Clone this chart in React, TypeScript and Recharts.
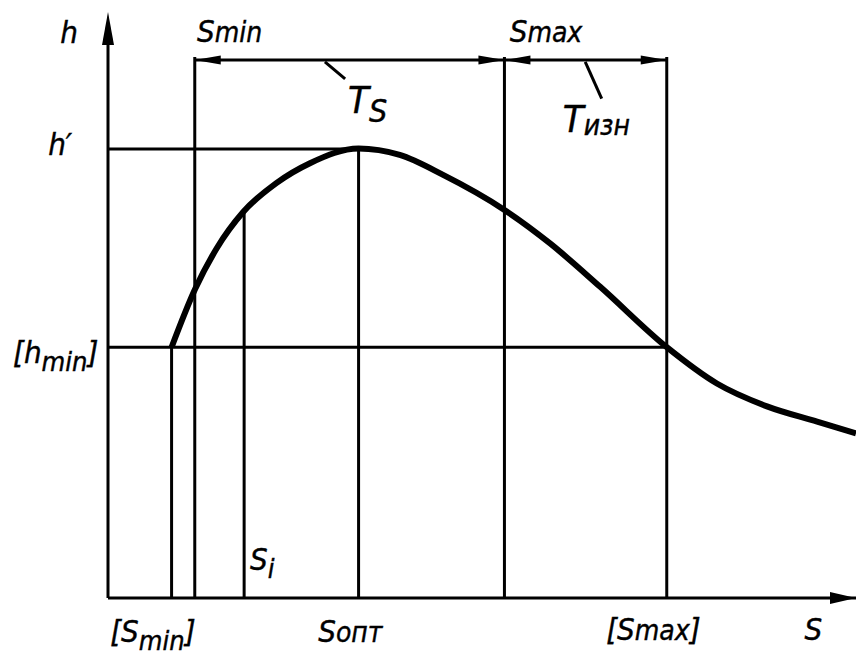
import { ComposedChart, Line, XAxis, YAxis, ReferenceLine, ReferenceDot } from 'recharts'

// curve h(S) (0..100 on both axes)
const curveS = [8.5, 11.6, 14.5, 18.1, 22.5, 27.0, 33.5, 39.0, 44.8, 52.9, 59.1, 65.8, 74.7, 81.4, 88.1, 94.8, 100]
const curveH = [42.8, 52.6, 59.6, 65.9, 70.8, 74.2, 76.7, 75.6, 72.2, 66.3, 60.5, 53.1, 42.8, 36.6, 32.7, 30.1, 28.1]

// characteristic points
const S_MIN_ALLOW = 8.5
const S_MIN = 11.6
const S_I = 18.2
const S_OPT = 33.5
const S_MAX = 53.0
const S_MAX_ALLOW = 74.7
const H_PRIME = 76.6
const H_MIN = 42.8
const H_SI = 65.9
const DIM_Y = 91.8
const EXT_TOP = 92.3

const FONT = "'DejaVu Sans Condensed', 'DejaVu Sans', sans-serif"

type Seg = [number, number, number, number, number]
// x1, y1, x2, y2, width
const segments: Seg[] = [
  [0, 0, 100, 0, 3],
  [0, 0, 0, 96, 3],
  [0, H_PRIME, S_OPT, H_PRIME, 3],
  [0, H_MIN, S_MAX_ALLOW, H_MIN, 3],
  [S_MIN_ALLOW, 0, S_MIN_ALLOW, H_MIN, 3],
  [S_MIN, 0, S_MIN, EXT_TOP, 3],
  [S_I, 0, S_I, H_SI, 3],
  [S_OPT, 0, S_OPT, H_PRIME, 3],
  [S_MAX, 0, S_MAX, EXT_TOP, 3],
  [S_MAX_ALLOW, 0, S_MAX_ALLOW, EXT_TOP, 3],
  [S_MIN, DIM_Y, S_MAX_ALLOW, DIM_Y, 3],
  [29.0, 91.5, 31.7, 88.6, 3],
  [63.8, 91.5, 66.0, 85.2, 3],
]

type Dir = 'up' | 'right' | 'left' | 'rightSm'
const arrows: [number, number, Dir][] = [
  [0, 100, 'up'],
  [100, 0, 'right'],
  [S_MIN, DIM_Y, 'left'],
  [S_MAX, DIM_Y, 'rightSm'],
  [S_MAX, DIM_Y, 'left'],
  [S_MAX_ALLOW, DIM_Y, 'rightSm'],
]

// text, size, baseline offset
type Part = [string, number, number]
const labels: { s: number; h: number; parts: Part[] }[] = [
  { s: -6.4, h: 94.7, parts: [['h', 31, 0]] },
  { s: -8.0, h: 75.6, parts: [['h′', 31, 0]] },
  { s: -12.7, h: 40.1, parts: [['[h', 31, 0], ['min', 27, 8], [']', 31, 0]] },
  { s: 11.9, h: 94.9, parts: [['S', 31, 0], ['min', 28, 0]] },
  { s: 53.7, h: 94.9, parts: [['S', 31, 0], ['max', 28, 0]] },
  { s: 32.1, h: 82.8, parts: [['T', 38, 0], ['S', 32, 9]] },
  { s: 60.8, h: 79.5, parts: [['T', 38, 0], ['изн', 28, 3]] },
  { s: 19.0, h: 4.8, parts: [['S', 31, 0], ['i', 27, 8]] },
  { s: 0.3, h: -7.5, parts: [['[S', 31, 0], ['min', 27, 8], [']', 31, 0]] },
  { s: 28.1, h: -7.5, parts: [['S', 31, 0], ['опт', 28, 0]] },
  { s: 66.6, h: -7.2, parts: [['[S', 31, 0], ['max', 28, 0], [']', 31, 0]] },
  { s: 93.1, h: -7.2, parts: [['S', 31, 0]] },
]

const data = curveS.map((s, i) => ({ s, h: curveH[i] }))

function ArrowHead({ cx, cy, dir }: { cx: number; cy: number; dir: Dir }) {
  let pts = ''
  if (dir === 'up') pts = `${cx},${cy} ${cx - 6},${cy + 33} ${cx + 6},${cy + 33}`
  if (dir === 'right') pts = `${cx},${cy} ${cx - 26},${cy - 6} ${cx - 26},${cy + 6}`
  if (dir === 'rightSm') pts = `${cx},${cy} ${cx - 26},${cy - 4.5} ${cx - 26},${cy + 4.5}`
  if (dir === 'left') pts = `${cx},${cy} ${cx + 26},${cy - 4.5} ${cx + 26},${cy + 4.5}`
  return <polygon points={pts} fill="#000" stroke="none" />
}

function Label({ cx, cy, parts }: { cx: number; cy: number; parts: Part[] }) {
  let prev = 0
  return (
    <text x={cx} y={cy} fontFamily={FONT} fontStyle="italic" fill="#000" stroke="#000" strokeWidth={0.4}>
      {parts.map(([t, size, off], i) => {
        const dy = off - prev
        prev = off
        return (
          <tspan key={i} fontSize={size} dy={dy}>
            {t}
          </tspan>
        )
      })}
    </text>
  )
}

export default function App() {
  return (
    <div style={{ position: 'absolute', left: 0, top: 0, background: '#fff' }}>
      <ComposedChart width={856} height={655} data={data} margin={{ top: 12, right: 0, bottom: 57, left: 108 }}>
        <XAxis dataKey="s" type="number" domain={[0, 100]} hide />
        <YAxis type="number" domain={[0, 100]} hide />
        {segments.map(([x1, y1, x2, y2, w], i) => (
          <ReferenceLine
            key={'seg' + i}
            segment={[{ x: x1, y: y1 }, { x: x2, y: y2 }]}
            stroke="#000"
            strokeWidth={w}
            ifOverflow="visible"
          />
        ))}
        <Line
          dataKey="h"
          type="monotone"
          stroke="#000"
          strokeWidth={6}
          dot={false}
          activeDot={false}
          isAnimationActive={false}
        />
        {arrows.map(([x, y, dir], i) => (
          <ReferenceDot
            key={'arr' + i}
            x={x}
            y={y}
            ifOverflow="visible"
            shape={(p: any) => <ArrowHead cx={p.cx} cy={p.cy} dir={dir} />}
          />
        ))}
        {labels.map((l, i) => (
          <ReferenceDot
            key={'lbl' + i}
            x={l.s}
            y={l.h}
            ifOverflow="visible"
            shape={(p: any) => <Label cx={p.cx} cy={p.cy} parts={l.parts} />}
          />
        ))}
      </ComposedChart>
    </div>
  )
}
